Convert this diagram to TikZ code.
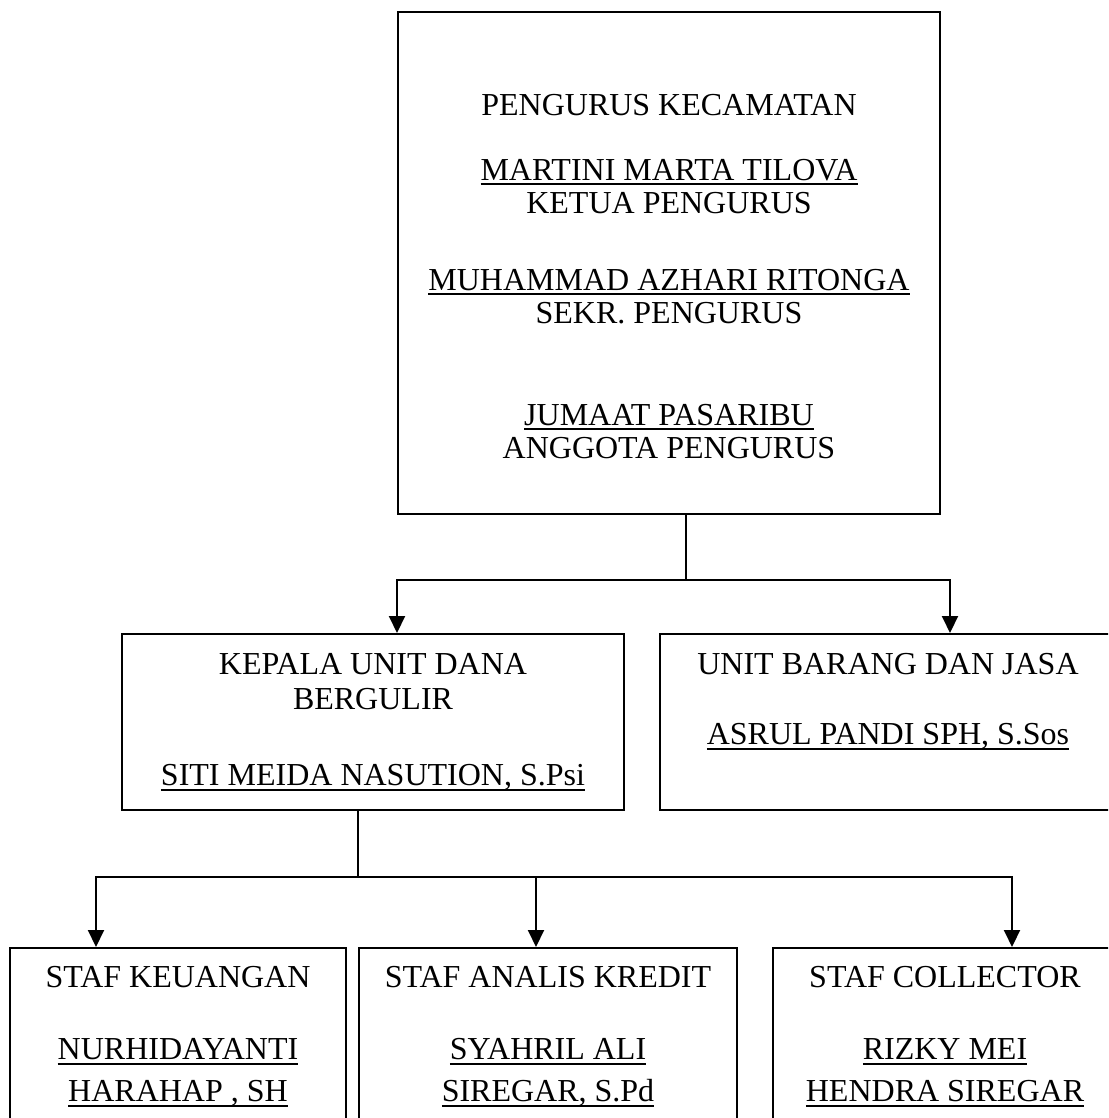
\documentclass[tikz,border=0pt]{standalone}
\usepackage{fontspec}
\setmainfont{Liberation Serif}
\usetikzlibrary{arrows.meta}
\newsavebox{\ulnbox}
\newcommand{\uln}[1]{\sbox{\ulnbox}{#1}\rlap{\rule[-4.8pt]{\wd\ulnbox}{2pt}}\usebox{\ulnbox}}

\begin{document}
\begin{tikzpicture}[x=1pt, y=-1pt,
      box/.style={rectangle, draw=black, line width=2pt, inner sep=0pt},
      txt/.style={align=center, anchor=north, inner sep=0pt,
                  font=\fontsize{32}{33}\selectfont},
      line/.style={line width=2pt},
      arr/.style={line width=2pt, -{Triangle[length=17pt, width=16pt]}},
    ]
    \useasboundingbox (0,0) rectangle (1108,1118);
    \clip (0,0) rectangle (1108,1118);

    \node[box, minimum width=542pt, minimum height=502pt] (pengurus) at (669,263) {};
    \node[txt] (pengurustxt) at (669,94)
      {PENGURUS KECAMATAN\\[32pt]
       \uln{MARTINI MARTA TILOVA}\\ KETUA PENGURUS\\[44pt]
       \uln{MUHAMMAD AZHARI RITONGA}\\ SEKR. PENGURUS\\[69pt]
       \uln{JUMAAT PASARIBU}\\ ANGGOTA PENGURUS};

    \node[box, minimum width=502pt, minimum height=176pt] (dana) at (373,722) {};
    \node[txt] (danatxt) at (373,653.5)
      {KEPALA UNIT DANA\\[2pt] BERGULIR\\[43pt] \uln{SITI MEIDA NASUTION, S.Psi}};

    \node[box, minimum width=456pt, minimum height=176pt] (barang) at (888,722) {};
    \node[txt] (barangtxt) at (888,653.5)
      {UNIT BARANG DAN JASA\\[37pt] \uln{ASRUL PANDI SPH, S.Sos}};

    \node[box, minimum width=336pt, minimum height=182pt] (keuangan) at (178,1039) {};
    \node[txt] (keuangantxt) at (178,966.5)
      {STAF KEUANGAN\\[39pt] \uln{NURHIDAYANTI}\\[9pt] \uln{HARAHAP , SH}};

    \node[box, minimum width=378pt, minimum height=182pt] (analis) at (548,1039) {};
    \node[txt] (analistxt) at (548,966.5)
      {STAF ANALIS KREDIT\\[39pt] \uln{SYAHRIL ALI}\\[9pt] \uln{SIREGAR, S.Pd}};

    \node[box, minimum width=344pt, minimum height=182pt] (collector) at (945,1039) {};
    \node[txt] (collectortxt) at (945,966.5)
      {STAF COLLECTOR\\[39pt] \uln{RIZKY MEI}\\[9pt] \uln{HENDRA SIREGAR}};

    \coordinate (j1) at (686,580);
    \coordinate (a1) at (397,580);
    \coordinate (a2) at (950,580);
    \coordinate (j2) at (358,877);
    \coordinate (b1) at (96,877);
    \coordinate (b2) at (536,877);
    \coordinate (b3) at (1012,877);

    \draw[line] (pengurus.south -| j1) -- (j1);
    \draw[arr] (j1) -| (a1 |- dana.north);
    \draw[arr] (j1) -| (a2 |- barang.north);
    \draw[line] (dana.south -| j2) -- (j2);
    \draw[arr] (j2) -| (b1 |- keuangan.north);
    \draw[arr] (j2) -| (b3 |- collector.north);
    \draw[arr] (b2) -- (b2 |- analis.north);
  \end{tikzpicture}
\end{document}
